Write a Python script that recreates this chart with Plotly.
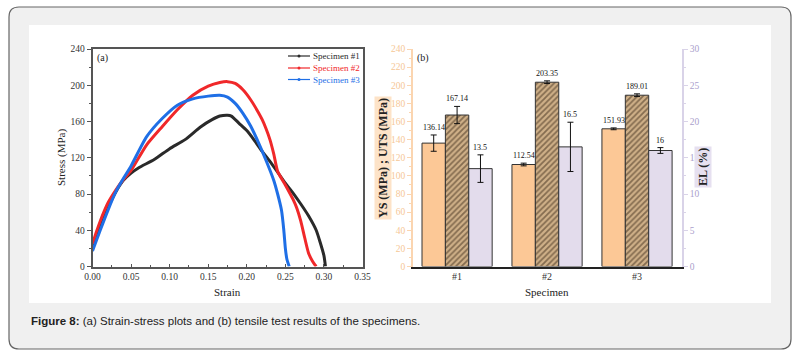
import plotly.graph_objects as go

W, H = 801, 354

# ---------------- data: panel (a) strain-stress curves ----------------
strain1 = [0.0, 0.01, 0.02, 0.03, 0.04, 0.05, 0.06, 0.08, 0.10, 0.12, 0.14, 0.155, 0.165, 0.175,
           0.18, 0.19, 0.20, 0.21, 0.22, 0.23, 0.24, 0.25, 0.26, 0.27, 0.28, 0.29, 0.295, 0.30, 0.302]
stress1 = [20, 45, 65, 82, 95, 103, 109, 118, 130, 140, 154, 162, 166, 167,
           166, 158, 150, 139, 127, 116, 104, 92, 81, 69, 56, 40, 27, 12, 0]

strain2 = [0.0, 0.005, 0.01, 0.02, 0.03, 0.04, 0.05, 0.07, 0.09, 0.11, 0.13, 0.15, 0.165, 0.175,
           0.185, 0.195, 0.205, 0.215, 0.22, 0.225, 0.23, 0.235, 0.24, 0.25, 0.26, 0.265, 0.27,
           0.275, 0.28, 0.285, 0.29]
stress2 = [25, 38, 50, 70, 84, 96, 106, 134, 154, 173, 189, 199, 203, 204,
           202, 195, 184, 170, 162, 152, 140, 124, 105, 90, 74, 64, 50, 32, 15, 6, 0]

strain3 = [0.0, 0.01, 0.02, 0.03, 0.04, 0.05, 0.07, 0.09, 0.11, 0.13, 0.15, 0.165, 0.175, 0.185,
           0.195, 0.205, 0.215, 0.225, 0.235, 0.24, 0.245, 0.248, 0.25, 0.252, 0.255]
stress3 = [17, 40, 62, 82, 97, 111, 143, 163, 178, 185, 188, 189, 187, 180,
           169, 155, 137, 117, 95, 80, 62, 40, 20, 8, 0]

curve_names = ["Specimen #1", "Specimen #2", "Specimen #3"]
curve_colors = ["#2a2a2a", "#f0282a", "#1f6fe6"]

# ---------------- data: panel (b) tensile test results ----------------
specimens = ["#1", "#2", "#3"]
ys_vals = [136.14, 112.54, 151.93]
ys_err = [9.0, 1.5, 1.0]
uts_vals = [167.14, 203.35, 189.01]
uts_err = [9.5, 1.5, 1.5]
el_vals = [13.5, 16.5, 16.0]
el_err = [1.9, 3.4, 0.4]
ys_labels = ["136.14", "112.54", "151.93"]
uts_labels = ["167.14", "203.35", "189.01"]
el_labels = ["13.5", "16.5", "16"]


def px(x):
    return x / W


def py(y):
    return 1 - y / H


SERIF = "Liberation Serif"
SANS = "Liberation Sans"

fig = go.Figure()

# ---- panel (a) traces ----
for xs, ys, nm, col in zip([strain1, strain2, strain3], [stress1, stress2, stress3],
                           curve_names, curve_colors):
    fig.add_trace(go.Scatter(x=xs, y=ys, mode="lines", name=nm, showlegend=False,
                             line=dict(color=col, width=3, shape="spline", smoothing=0.6),
                             xaxis="x", yaxis="y"))

# ---- panel (b) traces ----
pos = list(range(len(specimens)))
bw = 0.26
fig.add_trace(go.Bar(x=pos, y=ys_vals, width=bw, offset=-1.5 * bw, name="YS",
                     marker=dict(color="#fcc896", line=dict(color="#333", width=1)),
                     error_y=dict(type="data", array=ys_err, color="#111", thickness=1, width=3),
                     xaxis="x2", yaxis="y2", showlegend=False))
fig.add_trace(go.Bar(x=pos, y=uts_vals, width=bw, offset=-0.5 * bw, name="UTS",
                     marker=dict(color="#c9a983", line=dict(color="#333", width=1),
                                 pattern=dict(shape="/", fgcolor="#3a2817", bgcolor="#cfb088",
                                              size=4, solidity=0.45)),
                     error_y=dict(type="data", array=uts_err, color="#111", thickness=1, width=3),
                     xaxis="x2", yaxis="y2", showlegend=False))
fig.add_trace(go.Bar(x=pos, y=el_vals, width=bw, offset=0.5 * bw, name="EL",
                     marker=dict(color="#e3dcec", line=dict(color="#333", width=1)),
                     error_y=dict(type="data", array=el_err, color="#111", thickness=1, width=3),
                     xaxis="x2", yaxis="y3", showlegend=False))

annotations = []
label_font = dict(family=SERIF, size=8, color="#111")
for i in pos:
    annotations.append(dict(x=i - bw, y=ys_vals[i] + ys_err[i], xref="x2", yref="y2",
                            text=ys_labels[i], showarrow=False, yanchor="bottom", xanchor="center",
                            yshift=1, font=label_font))
    annotations.append(dict(x=i, y=uts_vals[i] + uts_err[i], xref="x2", yref="y2",
                            text=uts_labels[i], showarrow=False, yanchor="bottom", xanchor="center",
                            yshift=1, font=label_font))
    annotations.append(dict(x=i + bw, y=el_vals[i] + el_err[i], xref="x2", yref="y3",
                            text=el_labels[i], showarrow=False, yanchor="bottom", xanchor="center",
                            yshift=1, font=label_font))


def pann(x, y, text, size, xanchor="center", angle=0, color="#222", family=SERIF, **kw):
    d = dict(x=px(x), y=py(y), xref="paper", yref="paper", text=text, showarrow=False,
             xanchor=xanchor, yanchor="middle", textangle=angle,
             font=dict(family=family, size=size, color=color))
    d.update(kw)
    annotations.append(d)


# panel letters
pann(95, 58, "(a)", 10, xanchor="left")
pann(415, 58, "(b)", 10, xanchor="left")

# axis titles
pann(61, 158, "Stress (MPa)", 11, angle=-90)
pann(227, 292, "Strain", 11)
pann(547, 292, "Specimen", 11)
pann(383, 158, "<b>YS (MPa) ; UTS (MPa)</b>", 12, angle=-90, bgcolor="#fde3c8", borderpad=1)
pann(703, 167, "<b>EL (%)</b>", 12, angle=-90, bgcolor="#e6e0f0", borderpad=1)

# manual legend for panel (a)
shapes = []
leg_y = [56, 68, 79.5]
for nm, col, yy in zip(curve_names, curve_colors, leg_y):
    shapes.append(dict(type="line", xref="paper", yref="paper", x0=px(288), x1=px(310),
                       y0=py(yy), y1=py(yy), line=dict(color=col, width=1.2)))
    shapes.append(dict(type="circle", xref="paper", yref="paper", x0=px(297.5), x1=px(300.5),
                       y0=py(yy + 1.5), y1=py(yy - 1.5), fillcolor=col, line=dict(width=0)))
    pann(311, yy, nm, 9, xanchor="left", color=col)

# caption
pann(29, 321, "<b>Figure 8:</b> (a) Strain-stress plots and (b) tensile test results of the specimens.",
     11.5, xanchor="left", family=SANS)

# background frame (rounded) and white figure area
x0, y0, x1, y1, r = 9, 7, 791, 349, 10
rx, ry = r / W, r / H
X0, X1, Y0, Y1 = px(x0), px(x1), py(y0), py(y1)
path = (f"M {X0+rx},{Y0} L {X1-rx},{Y0} Q {X1},{Y0} {X1},{Y0-ry} "
        f"L {X1},{Y1+ry} Q {X1},{Y1} {X1-rx},{Y1} L {X0+rx},{Y1} Q {X0},{Y1} {X0},{Y1+ry} "
        f"L {X0},{Y0-ry} Q {X0},{Y0} {X0+rx},{Y0} Z")
shapes.insert(0, dict(type="path", xref="paper", yref="paper", path=path, layer="below",
                      fillcolor="#f0f0f0", line=dict(color="#666", width=1.2)))
shapes.insert(1, dict(type="rect", xref="paper", yref="paper", x0=px(29), x1=px(771),
                      y0=py(303), y1=py(25), layer="below", fillcolor="white", line=dict(width=0)))

tickfont = dict(family=SERIF, size=9.5, color="#333")
ydom = [py(266.5), py(49)]

common = dict(automargin=False, showgrid=False, zeroline=False)

fig.update_layout(
    width=W, height=H,
    margin=dict(l=0, r=0, t=0, b=0, pad=0, autoexpand=False),
    paper_bgcolor="white", plot_bgcolor="white",
    barmode="overlay",
    showlegend=False,
    xaxis=dict(domain=[px(92.5), px(362.5)], range=[0, 0.35], dtick=0.05, tickformat=".2f",
               showline=True, mirror=True, linecolor="#555", linewidth=1.5,
               ticks="inside", ticklen=3, tickcolor="#555", tickfont=tickfont,
               minor=dict(ticks="inside", ticklen=2, dtick=0.025, tickcolor="#555"),
               anchor="y", **common),
    yaxis=dict(domain=ydom, range=[0, 240], dtick=40, showline=True, mirror=True,
               linecolor="#555", linewidth=1.5,
               ticks="outside", ticklen=4, tickcolor="#555", tickfont=tickfont,
               minor=dict(ticks="outside", ticklen=2, dtick=20, tickcolor="#555"),
               anchor="x", **common),
    xaxis2=dict(domain=[px(413), px(682)], range=[-0.49, 2.5], tickvals=pos, ticktext=specimens,
                showline=True, linecolor="#222", linewidth=1.5,
                ticks="", tickfont=dict(family=SERIF, size=10, color="#333"), anchor="y2",
                **common),
    xaxis3=dict(domain=[px(413), px(682)], range=[0, 1], overlaying="x2", side="top",
                showline=True, linecolor="#555", linewidth=1.5, showticklabels=False,
                anchor="y2", **common),
    yaxis2=dict(domain=ydom, range=[0, 240], dtick=20, showline=True, linecolor="#fbd5b0",
                linewidth=1.5, ticks="outside", ticklen=4,
                tickcolor="#fbd5b0", tickfont=dict(family=SERIF, size=9.5, color="#f6c796"),
                minor=dict(ticks="outside", ticklen=2, dtick=10, tickcolor="#fbd5b0"),
                anchor="x2", **common),
    yaxis3=dict(domain=ydom, range=[0, 30], dtick=5, overlaying="y2", side="right",
                showline=True, linecolor="#d9d3e8", linewidth=1.5,
                ticks="outside", ticklen=4, tickcolor="#d9d3e8",
                tickfont=dict(family=SERIF, size=9.5, color="#aaa0cc"),
                minor=dict(ticks="outside", ticklen=2, dtick=2.5, tickcolor="#d9d3e8"),
                anchor="x2", **common),
    shapes=shapes,
    annotations=annotations,
)

fig.write_html("out.html",
               post_script="document.body.style.margin='0';document.body.style.overflow='hidden';")
